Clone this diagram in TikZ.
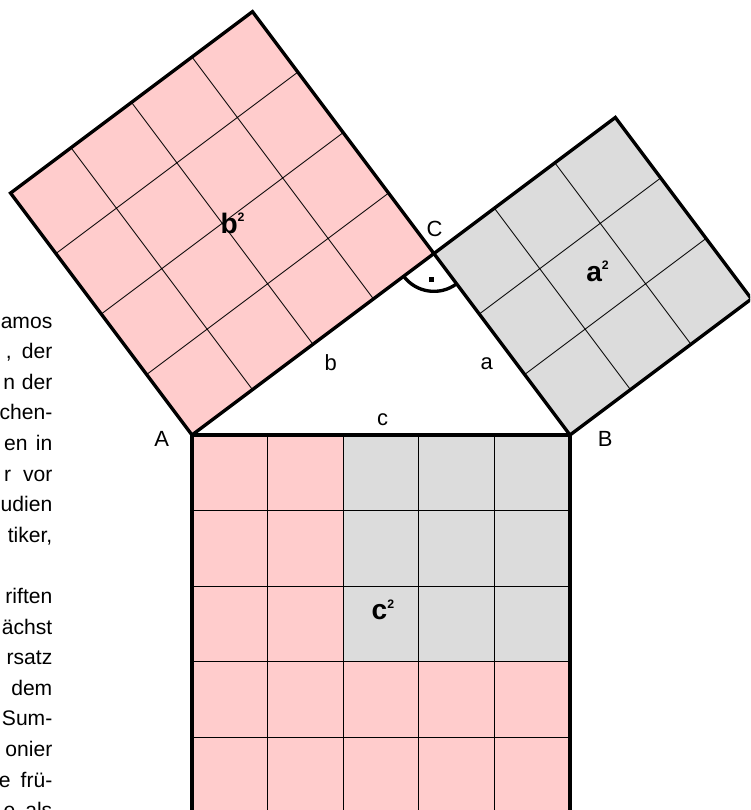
\documentclass[tikz,border=0pt]{standalone}
\usepackage{fontspec}
\setmainfont{Liberation Sans}
\usetikzlibrary{calc}
\definecolor{quadrot}{RGB}{255,204,204}
\definecolor{quadgrau}{RGB}{220,220,220}
\newcommand{\hoch}[1]{\raisebox{6.8pt}{\fontsize{7}{8}\selectfont #1}}
\tikzset{kante/.style={line width=1.9pt, line join=miter},
         gitter/.style={line width=0.5pt, step=1.512cm},
         zeile/.style={anchor=base east, inner sep=0pt},
         marke/.style={anchor=base, inner sep=0pt, font=\fontsize{12.5}{14}\selectfont},
         quadname/.style={anchor=base, inner sep=0pt, font=\fontsize{16}{18}\selectfont\bfseries}}

\begin{document}
\begin{tikzpicture}[x=1.512cm, y=1.512cm, font=\fontsize{12}{14}\selectfont]
  \useasboundingbox (-2.5397,-4.9603) rectangle (7.3810,5.7540);
  \clip (-2.5397,-4.9603) rectangle (7.3810,5.7540);
  \coordinate (A) at (0,0);
  \coordinate (B) at (5,0);
  \coordinate (C) at (3.2,2.4);
  % Text am linken Rand
  \foreach \i/\txt in {0/amos, 1/{,\hspace{5.7pt}der}, 2/{n\hspace{3.8pt}der}, 3/chen-,
                       4/{en\hspace{4.7pt}in}, 5/{r\hspace{6.7pt}vor}, 6/udien, 7/{tiker,},
                       9/riften, 10/ächst, 11/rsatz, 12/dem, 13/Sum-, 14/onier,
                       15/{e\hspace{5.7pt}frü-}, 16/{e\hspace{5.7pt}als}}
    \node[zeile] at (-1.843, {1.4153-0.40476*\i}) {\txt};
  % Quadrat ueber b
  \begin{scope}[rotate=36.8699]
    \fill[quadrot] (0,0) rectangle (4,4);
    \draw[gitter] (0,0) grid (4,4);
    \draw[kante] (0,0) rectangle (4,4);
  \end{scope}
  % Quadrat ueber a
  \begin{scope}[shift={(C)}, rotate=-53.1301]
    \fill[quadgrau] (0,0) rectangle (3,3);
    \draw[gitter] (0,0) grid (3,3);
    \draw[kante] (0,0) rectangle (3,3);
  \end{scope}
  % Quadrat ueber c
  \fill[quadrot] (A) rectangle ($(B)+(0,-5)$);
  \fill[quadgrau] (2,0) rectangle (5,-3);
  \draw[gitter] (0,-5) grid (5,0);
  \draw[kante] (A) -- (B) -- ++(0,-5) -- ++(-5,0) -- cycle;
  % rechter Winkel
  \draw[kante] ($(C)+(216.87:0.5)$) arc[start angle=216.87, end angle=306.87, radius=0.5];
  \fill ($(C)+(-0.063,-0.37)$) rectangle ++(0.066,0.066);
  % Beschriftung
  \node[marke] (lA) at (-0.401,-0.155) {A};
  \node[marke] (lB) at (5.467,-0.146) {B};
  \node[marke] (lC) at (3.208,2.632) {C};
  \node[marke] (la) at (3.898,0.860) {a};
  \node[marke] (lb) at (1.836,0.851) {b};
  \node[marke] (lc) at (2.520,0.132) {c};
  \node[quadname] (qa) at (5.364,2.028) {a\hoch{2}};
  \node[quadname] (qb) at (0.536,2.668) {b\hoch{2}};
  \node[quadname] (qc) at (2.526,-2.447) {c\hoch{2}};
\end{tikzpicture}
\end{document}
